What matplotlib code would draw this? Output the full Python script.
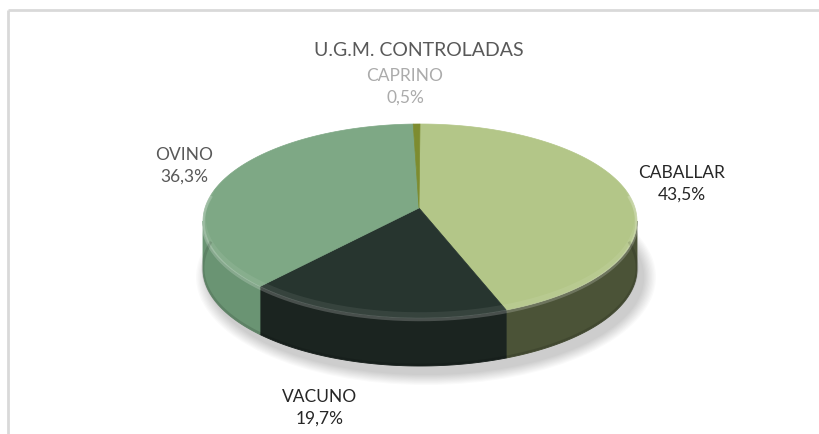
import numpy as np
import matplotlib.pyplot as plt
from matplotlib.patches import Polygon, Ellipse

# data
labels = ['CABALLAR', 'VACUNO', 'OVINO', 'CAPRINO']
shares = [43.5, 19.7, 36.3, 0.5]
pct_text = ['43,5%', '19,7%', '36,3%', '0,5%']

top_colors = ['#b3c688', '#27352f', '#7ea885', '#7d8c30']
side_colors = ['#4b5337', '#1b2420', '#6a9473', '#5c6a22']
label_colors = ['#262626', '#262626', '#595959', '#ababab']
label_pos = [(682, 184), (320, 408), (184, 166), (405, 87)]

title = 'U.G.M. CONTROLADAS'

# pie geometry (pixels)
cx, cy = 420, 221
rx, ry = 217, 97
depth = 48
apex = (419, 208)

fig = plt.figure(figsize=(8.2, 4.34), dpi=100)
ax = fig.add_axes([0, 0, 1, 1])
ax.set_xlim(0, 820)
ax.set_ylim(434, 0)
ax.axis('off')

# frame (top & left only visible)
ax.plot([8, 8], [434, 9.5], color='#d9d9d9', lw=2, solid_capstyle='butt')
ax.plot([8, 820], [9.5, 9.5], color='#d9d9d9', lw=2, solid_capstyle='butt')


def rim(theta):
    t = np.radians(theta)
    return cx + rx * np.sin(t), cy - ry * np.cos(t)


# soft shadow under the pie
for k in range(10):
    ax.add_patch(Ellipse((cx + 6, cy + depth + 8), 2 * rx + 26 - 2.6 * k,
                         2 * ry + 22 - 2.2 * k, color='#000000',
                         alpha=0.018, lw=0, zorder=1))

bounds = np.concatenate([[0], np.cumsum(shares)]) * 3.6

# side walls (front half only)
for i in range(len(shares)):
    a0, a1 = max(bounds[i], 90), min(bounds[i + 1], 270)
    if a1 <= a0:
        continue
    th = np.linspace(a0, a1, 120)
    xs, ys = rim(th)
    pts = list(zip(xs, ys)) + list(zip(xs[::-1], ys[::-1] + depth))
    ax.add_patch(Polygon(pts, closed=True, fc=side_colors[i],
                         ec=side_colors[i], lw=0.6, zorder=2))

# top faces
for i in range(len(shares)):
    th = np.linspace(bounds[i], bounds[i + 1], max(int(bounds[i + 1] - bounds[i]), 2) + 1)
    xs, ys = rim(th)
    pts = [apex] + list(zip(xs, ys))
    ax.add_patch(Polygon(pts, closed=True, fc=top_colors[i], ec=top_colors[i],
                         lw=0.5, zorder=3))

# bevel highlight along the front rim
th = np.linspace(75, 285, 200)
xs, ys = rim(th)
ax.plot(xs, ys + 1.5, color='white', alpha=0.2, lw=2.5, zorder=4)
ax.plot(xs, ys - 3, color='white', alpha=0.07, lw=4, zorder=4)
# darker lower edge of the wall
ax.plot(xs, ys + depth - 1, color='black', alpha=0.12, lw=2, zorder=4)

# texts
font = 'Lato'
ax.text(419, 50, title, ha='center', va='center', fontsize=14,
        color='#595959', family=font)
for i in range(len(shares)):
    x, y = label_pos[i]
    ax.text(x, y, labels[i] + '\n' + pct_text[i], ha='center', va='center',
            fontsize=12.5, color=label_colors[i], family=font, linespacing=1.45)

fig.savefig('out.png', dpi=100)
